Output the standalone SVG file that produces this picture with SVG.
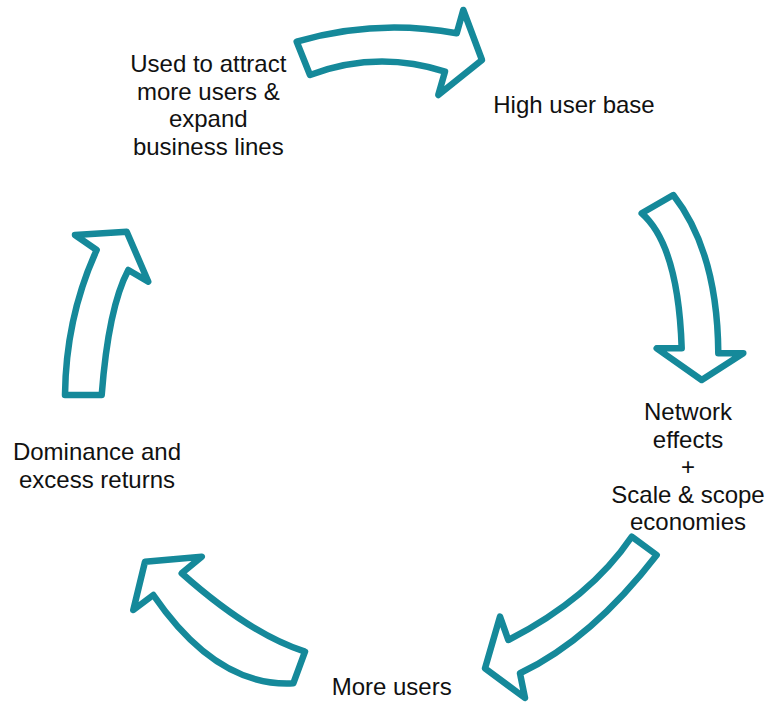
<svg xmlns="http://www.w3.org/2000/svg" width="770" height="704" viewBox="0 0 770 704">
<style>
.arr{fill:#ffffff;stroke:#15899a;stroke-width:6.5;stroke-linejoin:round}
.t{font-family:"Liberation Sans",Arial,Helvetica,sans-serif;font-size:24px;fill:#111111;text-anchor:middle}
</style>
<rect width="770" height="704" fill="#ffffff"/>
<g id="connectors">
<path class="arr" d="M296.7 41.7 Q376 18.5 456.7 33.3 L463.3 10 L482 60 L438.3 95 L445 71.7 Q377 50 310 75 Z"/>
<path class="arr" d="M641.7 213.3 L673.3 195 Q717.6 251.8 718.3 353.3 L743.3 353.3 L701.7 380 L656.7 348.3 L681.7 348.3 Q678.3 245.2 641.7 213.3 Z"/>
<path class="arr" d="M631.7 536.7 L656.7 555 Q591.7 639.2 520 673.3 L525 698 L485 668.3 L500 616.7 L508.3 640 Q590 598.3 631.7 536.7 Z"/>
<path class="arr" d="M293.3 683.3 L305 651.7 Q250 634.1 181.7 573.3 L201.7 556.7 L145 561.7 L133.3 610 L153.3 595 Q216.7 687.4 293.3 683.3 Z"/>
<path class="arr" d="M65 395 L101.7 395 Q108.4 307.5 128.3 270 L148.3 281.7 L126.7 231.7 L75 235 L96.7 250 Q65.8 317.5 65 395 Z"/>
</g>
<g id="node-used">
<text class="t" x="208.3" y="72">Used to attract</text>
<text class="t" x="208.3" y="99.6">more users &amp;</text>
<text class="t" x="208.3" y="127.2">expand</text>
<text class="t" x="208.3" y="154.8">business lines</text>
</g>
<g id="node-high">
<text class="t" x="574" y="113">High user base</text>
</g>
<g id="node-network">
<text class="t" x="688" y="420">Network</text>
<text class="t" x="688" y="447.6">effects</text>
<text class="t" x="688" y="475.2">+</text>
<text class="t" x="688" y="502.8">Scale &amp; scope</text>
<text class="t" x="688" y="530.4">economies</text>
</g>
<g id="node-more">
<text class="t" x="391.7" y="695">More users</text>
</g>
<g id="node-dominance">
<text class="t" x="97" y="460">Dominance and</text>
<text class="t" x="97" y="487.6">excess returns</text>
</g>
</svg>
